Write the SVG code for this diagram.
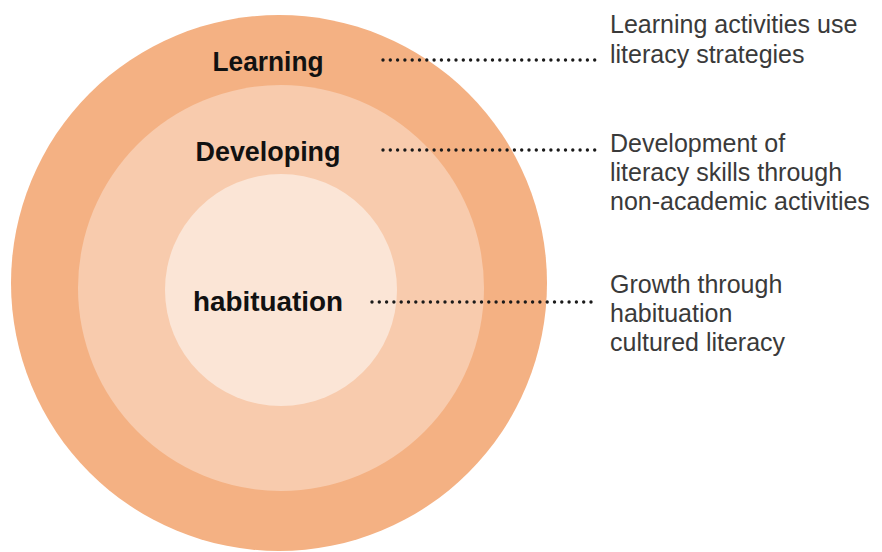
<svg xmlns="http://www.w3.org/2000/svg" width="882" height="552" viewBox="0 0 882 552">
  <style>
    .ring-outer { fill: #F4B183; }
    .ring-mid { fill: #F8CBAD; }
    .ring-inner { fill: #FBE5D6; }
    .label { font-family: "Liberation Sans", Arial, sans-serif; font-weight: bold; font-size: 28px; fill: #111111; text-anchor: middle; }
    .note { font-family: "Liberation Sans", Arial, sans-serif; font-size: 25px; fill: #3a3a3a; }
    .leader { stroke: #1a1a1a; stroke-width: 3.4; stroke-linecap: round; stroke-dasharray: 0 7.3; fill: none; }
  </style>
  <rect width="882" height="552" fill="#ffffff"/>

  <!-- concentric levels -->
  <g id="level-learning">
    <circle class="ring-outer" cx="279" cy="283" r="268"/>
  </g>
  <g id="level-developing">
    <circle class="ring-mid" cx="281" cy="288" r="203"/>
  </g>
  <g id="level-habituation">
    <circle class="ring-inner" cx="281" cy="290" r="116"/>
  </g>

  <!-- level names -->
  <g id="label-learning">
    <text class="label" x="268" y="71" textLength="111" lengthAdjust="spacingAndGlyphs">Learning</text>
  </g>
  <g id="label-developing">
    <text class="label" x="268" y="161" textLength="145" lengthAdjust="spacingAndGlyphs">Developing</text>
  </g>
  <g id="label-habituation">
    <text class="label" x="268" y="311" textLength="150" lengthAdjust="spacingAndGlyphs">habituation</text>
  </g>

  <!-- dotted leaders -->
  <g id="connectors">
    <line class="leader" x1="383" y1="60" x2="597" y2="60"/>
    <line class="leader" x1="383" y1="150" x2="597" y2="150"/>
    <line class="leader" x1="372" y1="302" x2="597" y2="302"/>
  </g>

  <!-- descriptions -->
  <g id="note-learning">
    <text class="note" x="610" y="33">Learning activities use</text>
    <text class="note" x="610" y="63">literacy strategies</text>
  </g>
  <g id="note-developing">
    <text class="note" x="610" y="152">Development of</text>
    <text class="note" x="610" y="181">literacy skills through</text>
    <text class="note" x="610" y="210">non-academic activities</text>
  </g>
  <g id="note-habituation">
    <text class="note" x="610" y="293">Growth through</text>
    <text class="note" x="610" y="322">habituation</text>
    <text class="note" x="610" y="351">cultured literacy</text>
  </g>
</svg>
